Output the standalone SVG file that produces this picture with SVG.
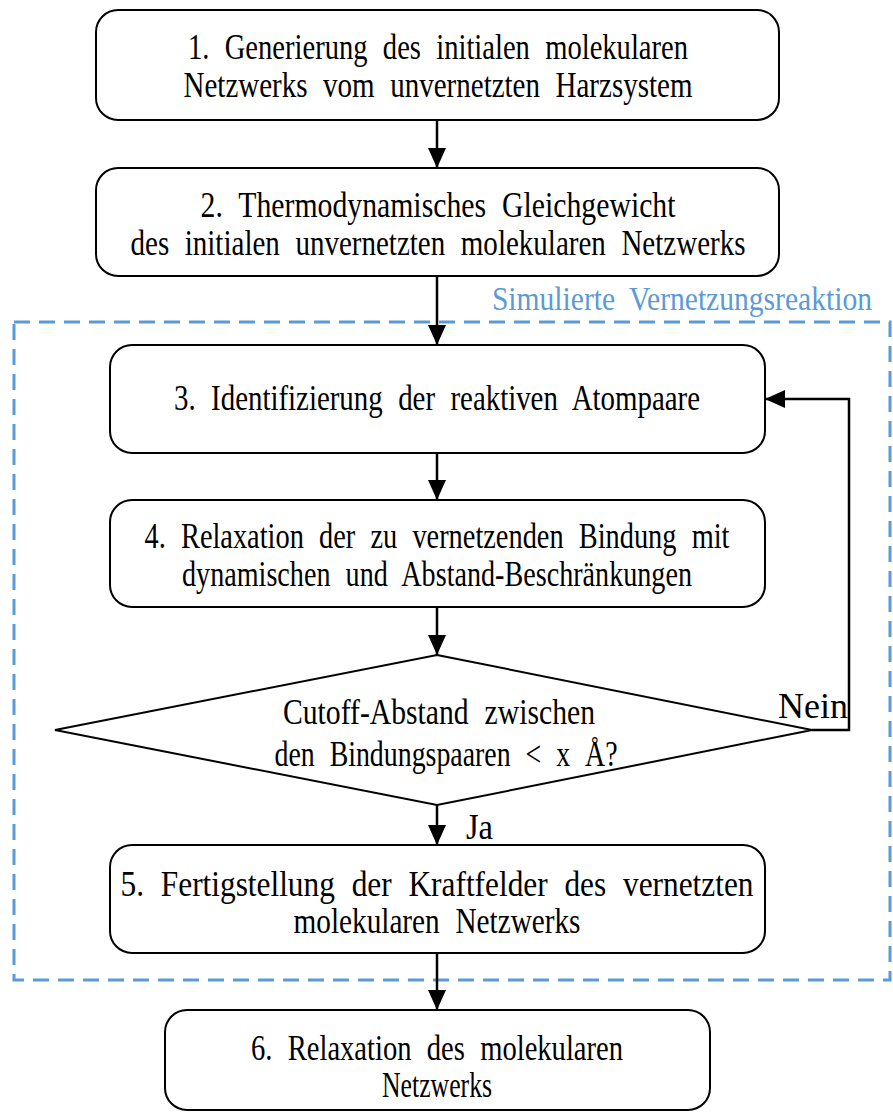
<svg xmlns="http://www.w3.org/2000/svg" width="893" height="1113" viewBox="0 0 893 1113">
  <style>
    .box { fill: #ffffff; stroke: #000000; stroke-width: 2; }
    .lbl { font-family: "Liberation Serif", "Times New Roman", serif; font-size: 35px; word-spacing: 10px; fill: #000000; text-anchor: middle; }
    .lab { font-family: "Liberation Serif", "Times New Roman", serif; font-size: 35px; fill: #000000; }
    .edge { fill: none; stroke: #000000; stroke-width: 2.5; }
    .group { fill: none; stroke: #5b9bd5; stroke-width: 3; stroke-dasharray: 16 9; }
    .grouplbl { font-family: "Liberation Serif", "Times New Roman", serif; font-size: 34px; word-spacing: 8px; fill: #5b9bd5; text-anchor: end; }
  </style>
  <defs>
    <marker id="head" viewBox="0 0 20 18" refX="20" refY="9" markerWidth="20" markerHeight="18" markerUnits="userSpaceOnUse" orient="auto">
      <path d="M0,0 L20,9 L0,18 z" fill="#000000"/>
    </marker>
  </defs>

  <!-- simulated crosslinking region -->
  <g id="region">
    <rect class="group" x="14" y="322" width="876" height="658"/>
    <text class="grouplbl" transform="translate(872,310) scale(0.87,1)" x="0" y="0">Simulierte Vernetzungsreaktion</text>
  </g>

  <g id="connectors">
    <line class="edge" x1="437" y1="120" x2="437" y2="168" marker-end="url(#head)"/>
    <line class="edge" x1="437" y1="276" x2="437" y2="345" marker-end="url(#head)"/>
    <line class="edge" x1="437" y1="453" x2="437" y2="500" marker-end="url(#head)"/>
    <line class="edge" x1="437" y1="607" x2="437" y2="655" marker-end="url(#head)"/>
    <line class="edge" x1="437" y1="805" x2="437" y2="845" marker-end="url(#head)"/>
    <line class="edge" x1="437" y1="953" x2="437" y2="1010" marker-end="url(#head)"/>
    <polyline class="edge" points="812,730 849,730 849,399 765,399" marker-end="url(#head)"/>
    <text class="lab" x="778" y="718" textLength="70" lengthAdjust="spacingAndGlyphs">Nein</text>
    <text class="lab" x="466" y="839" textLength="27" lengthAdjust="spacingAndGlyphs">Ja</text>
  </g>

  <g id="step1">
    <rect class="box" x="96" y="10" width="683" height="110" rx="22"/>
    <text class="lbl" x="438" y="59" textLength="500" lengthAdjust="spacingAndGlyphs">1. Generierung des initialen molekularen</text>
    <text class="lbl" x="438" y="97" textLength="509" lengthAdjust="spacingAndGlyphs">Netzwerks vom unvernetzten Harzsystem</text>
  </g>

  <g id="step2">
    <rect class="box" x="96" y="168" width="683" height="108" rx="22"/>
    <text class="lbl" x="438" y="217" textLength="475" lengthAdjust="spacingAndGlyphs">2. Thermodynamisches Gleichgewicht</text>
    <text class="lbl" x="438" y="255" textLength="615" lengthAdjust="spacingAndGlyphs">des initialen unvernetzten molekularen Netzwerks</text>
  </g>

  <g id="step3">
    <rect class="box" x="110" y="345" width="655" height="108" rx="22"/>
    <text class="lbl" x="437" y="410" textLength="526" lengthAdjust="spacingAndGlyphs">3. Identifizierung der reaktiven Atompaare</text>
  </g>

  <g id="step4">
    <rect class="box" x="110" y="500" width="655" height="107" rx="22"/>
    <text class="lbl" x="437" y="548" textLength="585" lengthAdjust="spacingAndGlyphs">4. Relaxation der zu vernetzenden Bindung mit</text>
    <text class="lbl" x="437" y="586" textLength="510" lengthAdjust="spacingAndGlyphs">dynamischen und Abstand-Beschränkungen</text>
  </g>

  <g id="decision">
    <polygon class="box" points="437,655 812,730 437,805 55,730"/>
    <text class="lbl" x="439" y="724" textLength="312" lengthAdjust="spacingAndGlyphs">Cutoff-Abstand zwischen</text>
    <text class="lbl" x="446" y="766" textLength="343" lengthAdjust="spacingAndGlyphs">den Bindungspaaren &lt; x Å?</text>
  </g>

  <g id="step5">
    <rect class="box" x="110" y="845" width="655" height="108" rx="22"/>
    <text class="lbl" x="437" y="896" textLength="633" lengthAdjust="spacingAndGlyphs">5. Fertigstellung der Kraftfelder des vernetzten</text>
    <text class="lbl" x="437" y="933" textLength="287" lengthAdjust="spacingAndGlyphs">molekularen Netzwerks</text>
  </g>

  <g id="step6">
    <rect class="box" x="165" y="1010" width="545" height="100" rx="22"/>
    <text class="lbl" x="437" y="1060" textLength="372" lengthAdjust="spacingAndGlyphs">6. Relaxation des molekularen</text>
    <text class="lbl" x="437" y="1097" textLength="110" lengthAdjust="spacingAndGlyphs">Netzwerks</text>
  </g>
</svg>
